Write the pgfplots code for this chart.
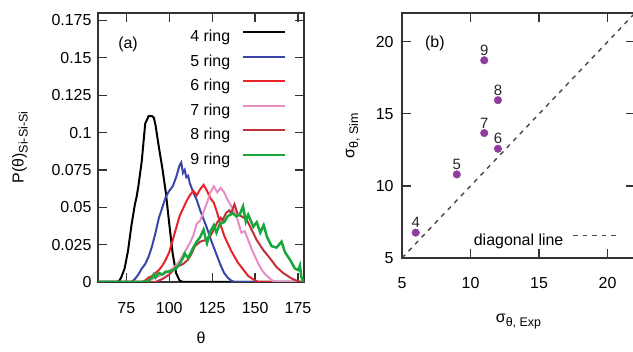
\documentclass[border=0pt]{standalone}
\usepackage{pgfplots}
\pgfplotsset{compat=1.18}
\usepackage{fontspec}
\setmainfont{Liberation Sans}
\definecolor{cblue}{HTML}{3C46AA}
\definecolor{cred}{HTML}{E8232A}
\definecolor{cpink}{HTML}{E88CC8}
\definecolor{cdred}{HTML}{C0303A}
\definecolor{cgreen}{HTML}{18A83A}
\definecolor{cpurple}{HTML}{8E3D9E}
\definecolor{axc}{HTML}{333333}
\begin{document}
\begin{tikzpicture}
\useasboundingbox (0,0) rectangle (633bp,352bp);
\pgfplotsset{
  every axis/.append style={
    scale only axis, anchor=south west,
    font=\fontsize{16}{19}\selectfont,
    axis line style={line width=1.3bp, draw=axc},
    tick style={line width=1.2bp, draw=axc},
    major tick length=9bp, tick align=inside,
    /pgf/number format/assume math mode=true,
    tick label style={font=\fontsize{16}{19}\selectfont},
  },
}
% ---------------- panel (a)
\begin{axis}[
  at={(98bp,70bp)}, width=206bp, height=269bp,
  xmin=58.5, xmax=178.5, ymin=0, ymax=0.18,
  xtick={75,100,125,150,175},
  ytick={0,0.025,0.05,0.075,0.1,0.125,0.15,0.175},
  scaled y ticks=false,
  yticklabel style={/pgf/number format/fixed, /pgf/number format/precision=3, xshift=-3bp},
  xticklabel style={yshift=-17bp},
  xlabel={θ},
  xlabel style={at={(axis description cs:0.5,-0.208)}, anchor=center},
  ylabel={P(θ)\raisebox{-0.45ex}{\fontsize{12.5}{13}\selectfont Si-Si-Si}},
  ylabel style={at={(axis description cs:-0.379,0.5)}, anchor=center, rotate=0},
  legend cell align=right,
  legend plot pos=right,
  legend image code/.code={\draw[#1] (0bp,5.5bp) -- (42bp,5.5bp);},
  legend style={draw=none, fill=none, at={(axis description cs:0.917,0.938)}, anchor=north east,
    inner sep=0pt, row sep=8.5bp, column sep=12bp,
    nodes={inner sep=0pt, text height=12bp, text depth=4bp, font=\fontsize{16}{19}\selectfont}},
  clip=true,
]
\addplot[black, line width=2bp] coordinates {(58.5,0)(70,0)(71,0.001)(72,0.003)(74,0.009)(76,0.021)(78,0.038)(80,0.052)(81,0.057)(82,0.064)(84,0.081)(86,0.106)(88,0.111)(90,0.111)(91,0.110)(92,0.105)(94,0.090)(96,0.076)(98,0.060)(100,0.039)(102,0.019)(104,0.006)(106,0.001)(108,0)(178.5,0)};
\addlegendentry{4 ring}
\addplot[cblue, line width=2bp] coordinates {(58.5,0)(78,0)(80,0.002)(82,0.005)(84,0.009)(86,0.012)(88,0.017)(90,0.024)(92,0.033)(94,0.043)(96,0.050)(98,0.057)(100,0.061)(102,0.064)(104,0.070)(106,0.078)(107,0.080)(108,0.073)(109,0.075)(110,0.070)(111,0.071)(112,0.066)(114,0.060)(116,0.055)(118,0.048)(120,0.042)(122,0.036)(124,0.029)(126,0.023)(128,0.017)(130,0.011)(132,0.006)(134,0.003)(136,0.001)(138,0)(178.5,0)};
\addlegendentry{5 ring}
\addplot[cred, line width=2bp] coordinates {(58.5,0)(84,0)(86,0.001)(88,0.003)(90,0.004)(92,0.006)(94,0.008)(96,0.011)(98,0.015)(100,0.020)(102,0.028)(104,0.036)(106,0.044)(108,0.049)(110,0.054)(112,0.058)(114,0.061)(116,0.058)(118,0.062)(120,0.065)(122,0.061)(124,0.056)(126,0.053)(128,0.046)(130,0.038)(132,0.031)(134,0.026)(136,0.021)(138,0.017)(140,0.013)(142,0.010)(144,0.007)(146,0.004)(148,0.0025)(150,0.001)(152,0)(178.5,0)};
\addlegendentry{6 ring}
\addplot[cpink, line width=2bp] coordinates {(58.5,0)(86,0)(90,0.002)(94,0.004)(98,0.006)(102,0.009)(104,0.011)(106,0.014)(108,0.018)(110,0.022)(112,0.026)(114,0.031)(116,0.039)(118,0.041)(120,0.047)(122,0.053)(124,0.060)(126,0.064)(128,0.060)(130,0.063)(132,0.060)(134,0.055)(136,0.051)(138,0.047)(140,0.041)(142,0.033)(144,0.034)(146,0.028)(148,0.022)(150,0.017)(152,0.012)(154,0.008)(156,0.005)(158,0.003)(160,0.001)(162,0)(178.5,0)};
\addlegendentry{7 ring}
\addplot[cdred, line width=2bp] coordinates {(58.5,0)(92,0)(96,0.002)(100,0.005)(104,0.010)(108,0.012)(111,0.015)(113,0.019)(115,0.024)(118,0.027)(121,0.028)(124,0.031)(126,0.035)(128,0.040)(130,0.043)(131,0.041)(133,0.046)(135,0.048)(136,0.046)(138,0.052)(140,0.045)(142,0.044)(145,0.042)(148,0.035)(151,0.028)(154.7,0.0215)(158.6,0.016)(162.5,0.010)(166.4,0.006)(171,0.0025)(176,0)(178.5,0)};
\addlegendentry{8 ring}
\addplot[cgreen, line width=2.5bp] coordinates {(58.5,0)(86,0)(88,0.001)(90,0.003)(91,0.005)(92,0.003)(94,0.006)(96,0.005)(98,0.007)(100,0.007)(102,0.008)(104,0.009)(106,0.012)(108,0.016)(109,0.019)(111,0.016)(114,0.023)(116,0.027)(118,0.030)(120,0.035)(121,0.030)(122,0.026)(124,0.034)(126,0.038)(127.5,0.033)(129.5,0.039)(132,0.040)(134,0.044)(137,0.046)(139,0.044)(141,0.045)(143,0.0506)(144.6,0.0405)(146,0.045)(149,0.037)(151,0.040)(153,0.033)(155,0.038)(157,0.030)(159.6,0.024)(162.5,0.023)(165.4,0.027)(167.4,0.020)(170.3,0.015)(173.2,0.009)(175.1,0.008)(176.1,0.011)(177,0.003)(178.5,0)};
\addlegendentry{9 ring}
\node[font=\fontsize{16}{19}\selectfont] at (axis cs:76,0.159) {(a)};
\end{axis}
% ---------------- panel (b)
\begin{axis}[
  at={(402bp,94bp)}, width=233bp, height=245bp,
  xmin=5, xmax=22, ymin=5, ymax=22,
  xtick={5,10,15,20}, ytick={5,10,15,20},
  yticklabel style={xshift=-5bp},
  xticklabel style={yshift=-16bp},
  xlabel={σ\raisebox{-0.45ex}{\fontsize{12.5}{13}\selectfont θ, Exp}},
  xlabel style={at={(axis description cs:0.5,-0.261)}, anchor=center},
  ylabel={σ\raisebox{-0.45ex}{\fontsize{12.5}{13}\selectfont θ, Sim}},
  ylabel style={at={(axis description cs:-0.211,0.5)}, anchor=center},
  legend cell align=right,
  legend plot pos=right,
  legend image code/.code={\draw[#1] (0bp,6bp) -- (44bp,6bp);},
  legend style={draw=none, fill=none, at={(axis description cs:0.927,0.102)}, anchor=north east,
    inner sep=0pt, column sep=9bp,
    nodes={inner sep=0pt, text height=12bp, text depth=4bp, font=\fontsize{16}{19}\selectfont}},
  clip=true,
]
\addplot[color=axc!90, line width=1.4bp, dash pattern=on 4.5bp off 5bp] coordinates {(5,5)(22,22)};
\addlegendentry{diagonal line}
\addplot[only marks, mark=*, mark size=3.8bp, color=cpurple, forget plot,
  point meta=explicit symbolic, nodes near coords,
  every node near coord/.append style={anchor=base, yshift=5bp, text=black!85, font=\fontsize{15}{17}\selectfont}]
  table[meta=lab] {
x y lab
6 6.76 4
9 10.8 5
12 12.58 6
11 13.67 7
12 15.95 8
11 18.72 9
};
\node[font=\fontsize{16}{19}\selectfont] at (axis cs:7.4,19.9) {(b)};
\end{axis}
\end{tikzpicture}
\end{document}
